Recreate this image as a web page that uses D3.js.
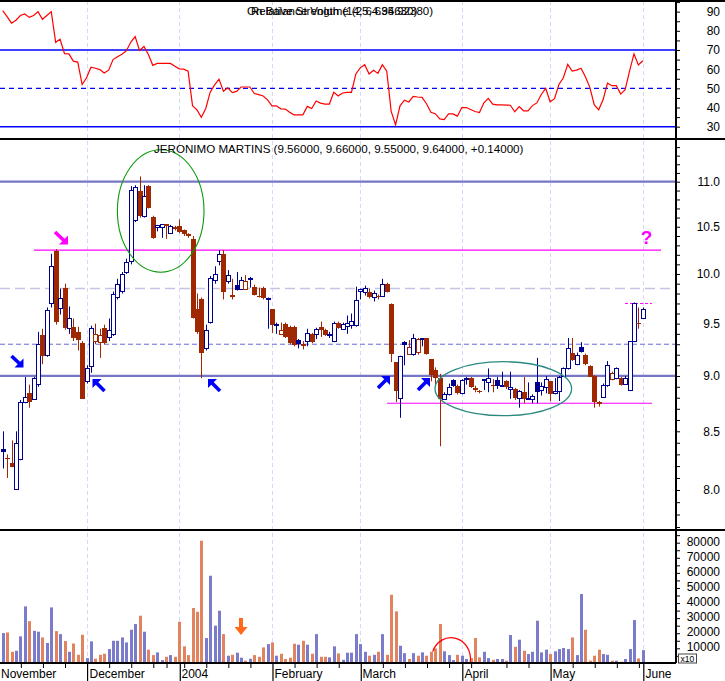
<!DOCTYPE html>
<html><head><meta charset="utf-8">
<script src="https://cdn.jsdelivr.net/npm/d3@7"></script>
<style>body{margin:0;background:#fff}svg{display:block;font-family:"Liberation Sans",Arial,sans-serif}</style>
</head><body><svg id="c" width="725" height="681"></svg>
<script>
// ---------- trading days (categories) ----------
const novDays=[4,5,6,7,10,11,12,13,14,17,18,19,20,21,24,25,26,27,28];
const decDays=[1,2,3,4,5,8,9,10,11,12,15,16,17,18,19,22,23,24,29,30,31];
const janDays=[2,5,6,7,8,9,12,13,14,15,16,19,20,21,22,23,26,27,28,29,30];
const febDays=[2,3,4,5,6,9,10,11,12,13,16,17,18,19,20,23,24,25,26,27];
const marDays=[1,2,3,4,5,8,9,10,11,12,15,16,17,18,19,22,23,24,25,26,29,30,31];
const aprDays=[1,2,5,6,7,8,13,14,15,16,19,20,21,22,23,26,27,28,29,30];
const mayDays=[3,4,5,6,7,10,11,12,13,14,17,18,19,20,21,24,25,26,27,28,31];
const junDays=[1];
const monthLabels=["November","December","2004","February","March","April","May","June"];

// ---------- price series ----------
const openP=[8.35,8.27,8.23,8.01,8.26,8.76,8.84,8.79,8.93,9.39,9.20,9.70,10.24,9.65,9.86,9.46,9.47,9.42,9.31,8.95,
9.09,9.33,9.32,9.46,9.37,9.40,9.76,9.83,10.02,10.13,10.57,10.90,10.62,10.95,10.61,10.50,10.50,10.53,10.43,10.50,
10.51,10.46,10.42,10.37,9.64,9.74,9.26,9.52,9.94,10.13,10.21,9.93,9.77,9.89,9.85,9.85,9.95,9.87,9.77,9.86,
9.74,9.64,9.49,9.40,9.50,9.47,9.47,9.34,9.30,9.33,9.40,9.40,9.47,9.44,9.39,9.33,9.51,9.45,9.48,9.49,
9.49,9.83,9.82,9.82,9.76,9.78,9.78,9.90,9.69,9.13,8.80,9.32,9.21,9.21,9.23,9.35,9.36,9.16,9.06,8.98,
8.79,8.83,8.96,8.91,8.84,8.97,8.98,8.89,8.86,8.96,8.94,8.92,8.96,8.91,8.95,8.88,8.88,8.80,8.85,8.79,
8.79,8.94,8.87,8.90,8.95,8.84,8.86,9.00,9.07,9.22,9.11,9.27,9.20,9.09,9.00,8.76,8.81,8.92,8.97,8.98,
8.98,8.93,8.87,9.33,9.51,9.56];
const highP=[8.50,8.30,8.42,8.50,8.78,8.99,8.92,8.99,9.42,9.45,9.66,10.21,10.26,9.85,9.90,9.67,9.55,9.47,9.33,9.10,
9.48,9.50,9.45,9.49,9.55,9.82,9.95,10.02,10.16,10.95,10.96,11.06,10.96,10.96,10.62,10.52,10.53,10.53,10.52,10.51,
10.58,10.47,10.43,10.40,9.80,9.76,9.49,9.98,10.08,10.25,10.25,10.04,9.95,10.02,9.97,9.99,9.97,9.89,9.86,9.87,
9.76,9.64,9.51,9.51,9.51,9.48,9.48,9.35,9.33,9.45,9.41,9.46,9.52,9.45,9.42,9.52,9.52,9.51,9.58,9.60,
9.87,9.85,9.88,9.85,9.83,9.79,9.95,9.91,9.70,9.13,9.19,9.33,9.34,9.40,9.36,9.36,9.36,9.16,9.08,9.02,
8.85,8.93,8.97,8.92,8.97,8.99,8.99,8.91,8.87,8.97,9.07,8.97,8.99,9.04,8.96,9.04,8.89,8.87,8.99,8.94,
8.83,9.17,8.94,9.00,8.95,8.98,9.00,9.08,9.36,9.36,9.22,9.32,9.21,9.10,9.01,8.77,8.93,9.14,9.04,9.08,
8.99,9.00,9.33,9.71,9.66,9.66];
const lowP=[8.18,8.10,8.19,8.00,8.25,8.75,8.71,8.78,8.90,9.11,9.18,9.66,9.49,9.59,9.44,9.40,9.33,9.24,8.79,8.93,
9.03,9.30,9.17,9.30,9.33,9.38,9.74,9.80,10.00,10.10,10.55,10.60,10.60,10.70,10.37,10.45,10.38,10.37,10.42,10.46,
10.43,10.40,10.38,9.55,9.40,8.98,9.24,9.50,9.90,10.09,9.74,9.90,9.74,9.83,9.84,9.84,9.86,9.78,9.76,9.74,
9.45,9.41,9.40,9.39,9.36,9.30,9.28,9.26,9.25,9.28,9.31,9.35,9.37,9.38,9.36,9.32,9.45,9.44,9.40,9.45,
9.47,9.74,9.78,9.75,9.72,9.74,9.77,9.81,9.13,8.76,8.62,9.10,9.20,9.19,9.20,9.28,9.20,8.95,8.92,8.37,
8.78,8.82,8.90,8.83,8.83,8.92,8.89,8.85,8.84,8.87,8.85,8.85,8.88,8.90,8.88,8.79,8.78,8.71,8.75,8.78,
8.75,8.75,8.82,8.84,8.77,8.83,8.77,8.99,9.06,9.14,9.10,9.22,9.10,8.99,8.71,8.72,8.80,8.90,8.96,8.97,
8.91,8.92,8.86,9.32,9.45,9.55];
const closeP=[8.32,8.26,8.19,8.40,8.76,8.81,8.76,8.98,9.30,9.19,9.63,10.08,9.52,9.75,9.46,9.56,9.36,9.34,8.79,9.07,
9.46,9.40,9.39,9.31,9.44,9.80,9.90,10.00,10.12,10.91,10.94,10.62,10.84,10.71,10.38,10.52,10.53,10.51,10.51,10.48,
10.44,10.42,10.40,9.56,9.42,9.22,9.44,9.96,10.00,10.21,9.82,9.99,9.79,9.84,9.94,9.93,9.96,9.79,9.76,9.75,
9.75,9.49,9.50,9.44,9.37,9.31,9.29,9.30,9.28,9.41,9.32,9.45,9.44,9.39,9.40,9.51,9.46,9.50,9.51,9.53,
9.73,9.85,9.86,9.76,9.81,9.77,9.90,9.82,9.21,8.86,9.19,9.29,9.27,9.36,9.35,9.36,9.21,9.01,8.98,8.79,
8.83,8.90,8.91,8.84,8.96,8.98,8.90,8.87,8.85,8.97,8.98,8.91,8.91,8.92,8.90,8.90,8.80,8.86,8.79,8.80,
8.82,8.85,8.91,8.97,8.83,8.86,8.99,9.07,9.26,9.15,9.20,9.23,9.11,8.99,8.76,8.74,8.92,9.10,9.03,9.07,
8.92,8.98,9.33,9.70,9.50,9.64];
// volume (axis units, x10)
const volume=[20100,20500,7700,8400,17900,37800,28000,21600,21000,17200,13500,37100,21400,19400,14800,7700,13200,5700,19000,3500,
14600,3100,5700,6400,9500,15000,15000,17200,13900,22300,26100,31600,21000,9100,5500,7300,2200,4400,5500,4400,
27600,11300,5500,36700,34200,81300,16800,58100,25000,34900,19400,5100,5700,7100,3800,1800,3100,5500,4400,10600,
12800,13900,5100,6400,2900,3800,13000,12400,15000,12400,6400,19400,4400,4400,4000,11300,6600,2400,7100,7100,
19400,12800,7700,5100,5700,7700,19400,5700,45500,34500,11700,6800,2900,6800,5100,7300,5100,7700,9900,26100,
8000,5500,2200,5700,5100,2900,3500,16800,4000,7700,3500,2400,2900,2900,1800,18800,11000,15700,8400,6200,
7700,28300,7300,9100,6200,8000,9500,10200,9500,17200,5500,46000,22300,1800,5100,9100,6200,5700,1800,1800,
1100,2900,9500,28700,3300,8800];
// relative strength
const rsi=[90.5,87.4,84,85.5,88,88.8,87,88,90,86,88,90,74,75.6,68.1,68,64.2,63.7,52,55.5,
61,60.5,59.8,58,59.5,65,66.5,67.8,69.5,74,77,69.8,71.8,67.7,62,63,63,63,63,61.5,
60.2,60,59,41,38.8,34.9,39.5,48,51.8,54.8,48.5,50.3,47.8,48.4,50.7,50.7,50.7,47.3,46.7,46,
44,40.9,40.9,39.3,39.2,37.5,36.2,36.2,36.2,40.6,39.5,43.4,42.3,41.8,41.8,48,46,47.6,47.9,47.9,
57.5,60.7,62.3,57.5,59.4,57.8,62.3,58.9,38,31,40.9,43.8,42.9,45.8,45.5,45.3,42,37.5,36.8,34.1,
33.7,36.7,36.7,35.5,40,40,39,37.9,37.4,42.5,44.8,41.8,41.4,41.4,41.3,41.2,37.8,40.5,38.3,38.3,
41,42.4,46.8,50,43,44.6,52,55.5,62.5,59,59.5,60.5,56,50.5,41.5,38.8,44,52.7,51.4,51.4,
47,49.3,59,68,62.2,64.4];
const priceTicks=[8.0,8.5,9.0,9.5,10.0,10.5,11.0];
const rsiTicks=[30,40,50,60,70,80,90];
const volTicks=[10000,20000,30000,40000,50000,60000,70000,80000];

// ---------- build ----------
const pad=d=>String(d).padStart(2,"0");
const dates=[].concat(
  novDays.map(d=>"2003-11-"+pad(d)),decDays.map(d=>"2003-12-"+pad(d)),
  janDays.map(d=>"2004-01-"+pad(d)),febDays.map(d=>"2004-02-"+pad(d)),
  marDays.map(d=>"2004-03-"+pad(d)),aprDays.map(d=>"2004-04-"+pad(d)),
  mayDays.map(d=>"2004-05-"+pad(d)),junDays.map(d=>"2004-06-"+pad(d)));
const bars=dates.map((d,i)=>({d,i,o:openP[i],h:highP[i],l:lowP[i],c:closeP[i],v:volume[i],r:rsi[i],
  up: i===0 ? true : closeP[i]>=closeP[i-1]}));

const AX=676;
const svg=d3.select("#c");
const x=d3.scalePoint().domain(dates).range([2.7,642.8]);
const yP=d3.scaleLog().domain([8,11]).range([490,181.7]);
const yR=d3.scaleLinear().domain([30,70]).range([126.7,50]);
const yV=d3.scaleLinear().domain([0,80000]).range([663.4,542.7]);
const BLUE="#000090", RED="#a02800", VBLUE="#7b7bcc", VRED="#e0835e";
const px=d=>Math.round(x(d));

const defs=svg.append("defs");
[["cR",0,1,AX,138],["cP",0,139,AX,391],["cV",0,530,AX,133]].forEach(([id,a,b,w,h])=>
  defs.append("clipPath").attr("id",id).append("rect").attr("x",a).attr("y",b).attr("width",w).attr("height",h));

// month gridlines
const monthStarts=dates.filter((d,i)=>i>0 && d.slice(0,7)!==dates[i-1].slice(0,7));
svg.append("g").selectAll("line").data(monthStarts).join("line")
  .attr("x1",d=>px(d)+0.5).attr("x2",d=>px(d)+0.5).attr("y1",1).attr("y2",663)
  .attr("stroke","#d6d6f6").attr("stroke-dasharray","4,3");

// ---------- RSI panel ----------
const gR=svg.append("g").attr("clip-path","url(#cR)");
[70,30].forEach(v=>gR.append("line").attr("x1",0).attr("x2",AX).attr("y1",yR(v)).attr("y2",yR(v))
  .attr("stroke","#0000ff").attr("stroke-width",1.4));
gR.append("line").attr("x1",0).attr("x2",AX).attr("y1",yR(50)).attr("y2",yR(50))
  .attr("stroke","#0000ff").attr("stroke-width",1.4).attr("stroke-dasharray","5,4");
gR.append("path").datum(bars).attr("fill","none").attr("stroke","#ff0000").attr("stroke-width",1.2)
  .attr("d",d3.line().x(b=>x(b.d)).y(b=>yR(b.r)));
// two indicator captions printed on top of each other, as in the source chart
const cap=svg.append("text").attr("y",15).attr("font-size",11.5);
cap.append("tspan").attr("x",247).text("On Balance Volume (25, 634.92380)");
cap.append("tspan").attr("x",251).text("Relative Strength (14, 64.95630)");

// ---------- Price panel ----------
const gP=svg.append("g").attr("clip-path","url(#cP)");
function hline(g,p,x1,x2,stroke,w,dash){
  const l=g.append("line").attr("x1",x1).attr("x2",x2).attr("y1",yP(p)).attr("y2",yP(p))
    .attr("stroke",stroke).attr("stroke-width",w);
  if(dash) l.attr("stroke-dasharray",dash);
}
hline(gP,9.85,0,AX,"#c4c4e6",1.5,"10,5");
hline(gP,9.30,0,AX,"#6a6ad8",1,"5,3");
hline(gP,11.0,0,AX,"#7676c4",2.2);
hline(gP,9.0,0,AX,"#7676c4",2.2);
hline(gP,10.25,34,661,"#ff00ff",1.2);
hline(gP,8.75,387,652,"#ff00ff",1.2);
hline(gP,9.70,625,652,"#ff00ff",1,"3,2");

// candles
const gC=gP.append("g");
bars.forEach(b=>{
  const cx=px(b.d), col=b.up?BLUE:RED;
  gC.append("line").attr("x1",cx+0.5).attr("x2",cx+0.5).attr("y1",yP(b.h)).attr("y2",yP(b.l))
    .attr("stroke",col).attr("stroke-width",1);
  const yt=Math.round(yP(Math.max(b.o,b.c))), yb=Math.round(yP(Math.min(b.o,b.c)));
  if(b.c>b.o){
    gC.append("rect").attr("x",cx-1.5).attr("y",yt+0.5).attr("width",4).attr("height",Math.max(1,yb-yt))
      .attr("fill","#fff").attr("stroke",col).attr("stroke-width",1);
  } else {
    gC.append("rect").attr("x",cx-2).attr("y",yt).attr("width",5).attr("height",Math.max(1,yb-yt))
      .attr("fill",col);
  }
});
// ellipses
gP.append("ellipse").attr("cx",160.7).attr("cy",211).attr("rx",43.3).attr("ry",61.2)
  .attr("fill","none").attr("stroke","#0a9a0a").attr("stroke-width",1.1);
gP.append("ellipse").attr("cx",503.3).attr("cy",388.7).attr("rx",68.3).attr("ry",27)
  .attr("fill","none").attr("stroke","#2a8a80").attr("stroke-width",1.3);

// arrows
function arrow(x1,y1,x2,y2,col,h){
  const sx=Math.sign(x2-x1), sy=Math.sign(y2-y1);
  svg.append("line").attr("x1",x1).attr("y1",y1).attr("x2",x2-sx*h*0.45).attr("y2",y2-sy*h*0.45)
    .attr("stroke",col).attr("stroke-width",3.6);
  svg.append("path").attr("d",`M${x2},${y2}L${x2-sx*h},${y2}L${x2},${y2-sy*h}Z`).attr("fill",col);
}
arrow(11.5,356,23.5,367.5,"#0000ff",9);
arrow(104.5,391,92.5,379,"#0000ff",9);
arrow(220,391,208,379,"#0000ff",9);
arrow(378,388,390,376,"#0000ff",9);
arrow(418,390,430,378,"#0000ff",9);
arrow(55,232,68,244.5,"#ff00ff",9);
svg.append("text").attr("x",646.5).attr("y",244).attr("text-anchor","middle").attr("font-size",19)
  .attr("font-weight","bold").attr("fill","#ff00ff").text("?");
svg.append("text").attr("x",154).attr("y",152.5).attr("font-size",11.6)
  .text("JERONIMO MARTINS (9.56000, 9.66000, 9.55000, 9.64000, +0.14000)");

// ---------- Volume panel ----------
const gV=svg.append("g").attr("clip-path","url(#cV)");
gV.selectAll("rect").data(bars).join("rect")
  .attr("x",b=>px(b.d)-1).attr("width",3)
  .attr("y",b=>yV(b.v)).attr("height",b=>yV(0)-yV(b.v))
  .attr("fill",b=>b.up?VBLUE:VRED);
// orange arrow
svg.append("rect").attr("x",239).attr("y",618).attr("width",4).attr("height",10).attr("fill","#ff6a1a");
svg.append("path").attr("d","M234.5,627L247.5,627L241,635Z").attr("fill","#ff6a1a");
// red arc
svg.append("path").attr("d","M432.7,651.6 A19.5,21.3 0 0 1 470.3,662").attr("fill","none")
  .attr("stroke","#ff0000").attr("stroke-width",1.2);

// ---------- frames ----------
const frame=svg.append("g").attr("stroke","#000").attr("shape-rendering","crispEdges");
[[0,1,725,1],[0,139,725,139],[0,530,725,530],[0,663,AX,663],[AX,0,AX,663]].forEach(([a,b,c,d])=>
  frame.append("line").attr("x1",a).attr("y1",b).attr("x2",c).attr("y2",d).attr("stroke-width",1.5));

// ---------- right axes ----------
function styleAxis(g,dy){
  g.select(".domain").remove();
  g.selectAll(".tick line").attr("stroke","#000");
  g.selectAll(".tick text").attr("x",44).attr("text-anchor","end").attr("font-size",12)
    .attr("font-family","Liberation Sans, Arial, sans-serif").attr("fill","#000");
  if(dy) g.selectAll(".tick text").attr("dy",dy);
}
svg.append("g").attr("transform",`translate(${AX},0)`)
  .call(d3.axisRight(yR).tickValues(d3.range(30,96,5)).tickSize(4)
    .tickFormat(v=>rsiTicks.includes(v)?v:"")).call(g=>styleAxis(g));
const pMinor=d3.range(77,116).map(v=>v/10);
svg.append("g").attr("transform",`translate(${AX},0)`)
  .call(d3.axisRight(yP).tickValues(pMinor).tickSize(4)
    .tickFormat(v=>priceTicks.some(t=>Math.abs(t-v)<1e-6)?d3.format(".1f")(v):"")).call(g=>styleAxis(g));
svg.append("g").attr("transform",`translate(${AX},0)`)
  .call(d3.axisRight(yV).tickValues(d3.range(5000,90000,5000)).tickSize(4)
    .tickFormat(v=>volTicks.includes(v)?v:"")).call(g=>styleAxis(g,"0.2em"));
svg.append("rect").attr("x",678.5).attr("y",654).attr("width",18).attr("height",9)
  .attr("fill","#fff").attr("stroke","#444");
svg.append("text").attr("x",680.5).attr("y",662).attr("font-size",8.5).text("x10");

// ---------- bottom axis ----------
const mondays=dates.filter(d=>new Date(d+"T12:00:00").getDay()===1 && !monthStarts.includes(d));
svg.append("g").attr("transform","translate(0.5,663)")
  .call(d3.axisBottom(x).tickValues(mondays).tickSize(5).tickFormat(""))
  .call(g=>{g.select(".domain").remove();g.selectAll(".tick line").attr("stroke","#000");});
svg.append("g").attr("transform","translate(0.5,663)")
  .call(d3.axisBottom(x).tickValues(monthStarts).tickSize(19).tickFormat(""))
  .call(g=>{g.select(".domain").remove();g.selectAll(".tick line").attr("stroke","#000").attr("stroke-width",1.2);});
const labelPos=[1].concat(monthStarts.map(d=>px(d)+2.5));
svg.append("g").selectAll("text").data(monthLabels).join("text")
  .attr("x",(d,i)=>labelPos[i]).attr("y",678).attr("font-size",12).text(d=>d);
</script></body></html>
